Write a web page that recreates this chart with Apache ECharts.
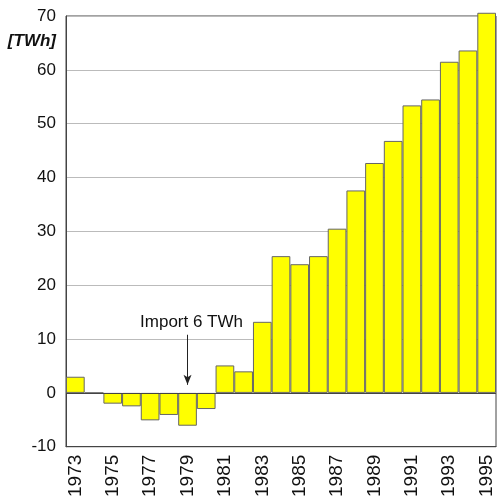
<!DOCTYPE html>
<html>
<head>
<meta charset="utf-8">
<script src="https://cdn.jsdelivr.net/npm/echarts@6/dist/echarts.min.js"></script>
<style>html,body{margin:0;padding:0;background:#fff;}#c{width:500px;height:500px;}</style>
</head>
<body>
<div id="c"></div>
<script>
var years = ['1973','1974','1975','1976','1977','1978','1979','1980','1981','1982','1983','1984','1985','1986','1987','1988','1989','1990','1991','1992','1993','1994','1995'];
var values = [3.0, 0, -2.0, -2.5, -5.1, -4.1, -6.1, -3.0, 5.1, 4.0, 13.2, 25.4, 23.9, 25.4, 30.5, 37.6, 42.7, 46.8, 53.4, 54.5, 61.5, 63.6, 70.6];
var unitLabel = '[TWh]';
var annotationText = 'Import 6 TWh';
var annotationYear = '1979';

var chart = echarts.init(document.getElementById('c'));
chart.setOption({
  animation: false,
  backgroundColor: '#fff',
  grid: { left: 66, right: 4, top: 16, bottom: 53, show: true, borderColor: '#444', borderWidth: 1 },
  xAxis: {
    type: 'category',
    data: years,
    axisLine: { onZero: false, lineStyle: { color: '#444' } },
    axisTick: { show: false },
    axisLabel: { interval: 1, rotate: 90, fontSize: 19, color: '#111', fontFamily: 'Liberation Sans, Arial', margin: 8 }
  },
  yAxis: {
    type: 'value',
    min: -10, max: 70, interval: 10,
    name: unitLabel,
    nameLocation: 'end',
    nameGap: -25,
    nameTextStyle: { fontSize: 17, fontWeight: 'bold', fontStyle: 'italic', color: '#111', fontFamily: 'Liberation Sans, Arial', align: 'right', verticalAlign: 'middle', padding: [0, 10, 0, 0] },
    axisLine: { show: true, lineStyle: { color: '#444' } },
    axisTick: { show: false },
    axisLabel: { fontSize: 17, color: '#111', fontFamily: 'Liberation Sans, Arial', margin: 10 },
    splitLine: { lineStyle: { color: '#bbb', width: 1 } }
  },
  series: [{
    type: 'bar',
    data: values,
    clip: false,
    barCategoryGap: 0,
    itemStyle: { color: '#ffff00', borderColor: '#666', borderWidth: 1 },
    markLine: {
      silent: true,
      symbol: 'none',
      lineStyle: { color: '#444', width: 1, type: 'solid' },
      label: { show: false },
      data: [
        { yAxis: 0 },
        [
          { coord: [annotationYear, 10.8], symbol: 'none',
            lineStyle: { color: '#222', width: 1, type: 'solid' },
            label: { show: true, position: 'start', formatter: annotationText, fontSize: 17, color: '#111', fontFamily: 'Liberation Sans, Arial', distance: 4, offset: [4, 0] } },
          { coord: [annotationYear, 1.5], symbol: 'arrow', symbolSize: [6, 10] }
        ]
      ]
    }
  }]
});
</script>
</body>
</html>
